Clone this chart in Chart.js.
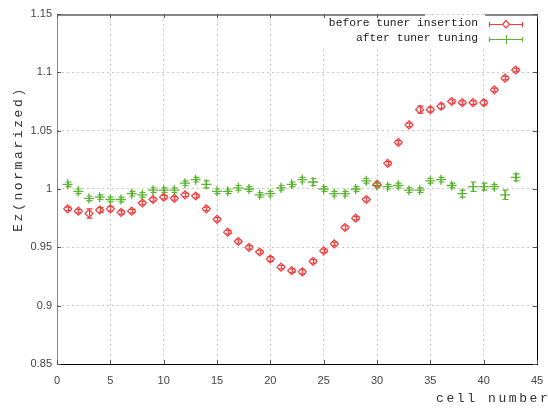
<!DOCTYPE html>
<html>
<head>
<meta charset="utf-8">
<script src="https://cdn.jsdelivr.net/npm/chart.js@4/dist/chart.umd.min.js"></script>
<style>
  html, body { margin: 0; padding: 0; background: #fff; }
  #wrap { width: 548px; height: 408px; }
</style>
</head>
<body>
<div id="wrap"><canvas id="myChart" width="548" height="408"></canvas></div>
<script>
// cell index 1..43
let cells = [];
for (let i = 1; i <= 43; i++) cells.push(i);

let labelBefore = 'before tuner insertion';
let labelAfter = 'after tuner tuning';

let before = [0.983, 0.981, 0.979, 0.982, 0.983, 0.980, 0.981, 0.988, 0.991, 0.993,
              0.992, 0.995, 0.994, 0.983, 0.974, 0.963, 0.955, 0.950, 0.946, 0.940,
              0.933, 0.930, 0.929, 0.938, 0.947, 0.953, 0.967, 0.975, 0.991, 1.004,
              1.022, 1.040, 1.055, 1.068, 1.068, 1.071, 1.075, 1.074, 1.074, 1.074,
              1.085, 1.095, 1.102];
let beforeErr = [0.0015, 0.0015, 0.004, 0.002, 0.002, 0.0015, 0.0015, 0.0015, 0.0015, 0.0015,
                 0.0015, 0.0015, 0.0015, 0.0015, 0.0015, 0.0015, 0.0015, 0.0015, 0.0015, 0.002,
                 0.0015, 0.0015, 0.002, 0.0015, 0.0015, 0.0015, 0.0015, 0.0015, 0.0015, 0.0015,
                 0.0015, 0.0015, 0.0015, 0.003, 0.002, 0.002, 0.0015, 0.0015, 0.0015, 0.002,
                 0.0015, 0.0015, 0.0015];

let after = [1.004, 0.998, 0.992, 0.993, 0.991, 0.991, 0.996, 0.995, 0.999, 0.999,
             0.999, 1.005, 1.008, 1.004, 0.998, 0.998, 1.001, 1.000, 0.995, 0.996,
             1.001, 1.004, 1.008, 1.006, 1.000, 0.996, 0.996, 1.000, 1.007, 1.003,
             1.002, 1.003, 0.999, 0.999, 1.007, 1.008, 1.003, 0.996, 1.002, 1.002,
             1.002, 0.995, 1.010];
let afterErr = [0.002, 0.002, 0.002, 0.002, 0.002, 0.002, 0.002, 0.002, 0.002, 0.002,
                0.002, 0.002, 0.002, 0.003, 0.002, 0.002, 0.002, 0.002, 0.002, 0.002,
                0.002, 0.002, 0.002, 0.003, 0.002, 0.002, 0.002, 0.002, 0.002, 0.002,
                0.002, 0.002, 0.002, 0.002, 0.002, 0.002, 0.002, 0.003, 0.004, 0.003,
                0.002, 0.004, 0.003];

let xTicks = [0, 5, 10, 15, 20, 25, 30, 35, 40, 45];
let yTicks = [0.85, 0.9, 0.95, 1, 1.05, 1.1, 1.15];

let red = '#f03c3c';
let green = '#5cb432';
let monoFont = '"Liberation Mono", "DejaVu Sans Mono", monospace';

function toPoints(ys) {
    return cells.map((c, i) => ({ x: c, y: ys[i] }));
}

// error bars + frame + legend drawn on top
let extras = {
    id: 'extras',
    beforeDatasetsDraw(chart) {
        let ctx = chart.ctx;
        let a = chart.chartArea;
        // legend box hides the grid under it
        ctx.save();
        ctx.fillStyle = '#fff';
        ctx.fillRect(318, a.top + 1, 212, 33);
        ctx.restore();
    },
    afterDatasetsDraw(chart) {
        let ctx = chart.ctx;
        let xs = chart.scales.x, ys = chart.scales.y;
        let errs = [beforeErr, afterErr];
        let cols = [red, green];
        ctx.save();
        ctx.lineWidth = 1.2;
        chart.data.datasets.forEach((ds, k) => {
            ctx.strokeStyle = cols[k];
            ds.data.forEach((p, i) => {
                let px = Math.round(xs.getPixelForValue(p.x)) + 0.5;
                let y1 = ys.getPixelForValue(p.y - errs[k][i]);
                let y2 = ys.getPixelForValue(p.y + errs[k][i]);
                ctx.beginPath();
                ctx.moveTo(px, y1); ctx.lineTo(px, y2);
                ctx.moveTo(px - 3, y1); ctx.lineTo(px + 3, y1);
                ctx.moveTo(px - 3, y2); ctx.lineTo(px + 3, y2);
                ctx.stroke();
            });
        });
        ctx.restore();
    },
    afterDraw(chart) {
        let ctx = chart.ctx;
        let a = chart.chartArea;
        let xs = chart.scales.x, ys = chart.scales.y;
        ctx.save();
        // frame
        ctx.lineWidth = 1;
        ctx.strokeStyle = '#888';
        ctx.beginPath();
        ctx.moveTo(a.left + 0.5, a.top); ctx.lineTo(a.left + 0.5, a.bottom);
        ctx.stroke();
        ctx.lineWidth = 2;
        ctx.beginPath();
        ctx.moveTo(a.left, a.top + 1); ctx.lineTo(425, a.top + 1);
        ctx.moveTo(485, a.top + 1); ctx.lineTo(a.right, a.top + 1);
        ctx.stroke();
        ctx.lineWidth = 1;
        ctx.strokeStyle = '#000';
        ctx.beginPath();
        ctx.moveTo(a.left, a.bottom + 0.5); ctx.lineTo(a.right + 1, a.bottom + 0.5);
        ctx.moveTo(a.right + 0.5, a.top); ctx.lineTo(a.right + 0.5, a.bottom);
        ctx.stroke();
        // inward tick marks
        ctx.strokeStyle = '#555';
        ctx.beginPath();
        xTicks.forEach(v => {
            let px = Math.round(xs.getPixelForValue(v)) + 0.5;
            ctx.moveTo(px, a.bottom); ctx.lineTo(px, a.bottom - 4);
            if (px < 425 || px > 485) { ctx.moveTo(px, a.top); ctx.lineTo(px, a.top + 4); }
        });
        yTicks.forEach(v => {
            let py = Math.round(ys.getPixelForValue(v)) + 0.5;
            ctx.moveTo(a.left, py); ctx.lineTo(a.left + 4, py);
            ctx.moveTo(a.right, py); ctx.lineTo(a.right - 4, py);
        });
        ctx.stroke();

        // axis titles
        ctx.fillStyle = '#333';
        ctx.font = '13px ' + monoFont;
        ctx.letterSpacing = '2.6px';
        ctx.textBaseline = 'middle';
        ctx.textAlign = 'left';
        ctx.fillText('cell number', 436, 399);
        ctx.save();
        ctx.translate(19, 159);
        ctx.rotate(-Math.PI / 2);
        ctx.textAlign = 'center';
        ctx.fillText('Ez(normarized)', 0, 0);
        ctx.restore();

        // legend
        ctx.letterSpacing = '0px';
        ctx.font = '11.3px ' + monoFont;
        ctx.textAlign = 'right';
        let rows = [
            { text: labelBefore, col: red, y: 24, style: 'diamond' },
            { text: labelAfter, col: green, y: 39, style: 'cross' }
        ];
        rows.forEach(r => {
            ctx.fillStyle = '#222';
            ctx.fillText(r.text, 478, r.y - 1);
            ctx.strokeStyle = r.col;
            ctx.lineWidth = 1.2;
            ctx.beginPath();
            ctx.moveTo(489, r.y + 0.5); ctx.lineTo(523, r.y + 0.5);
            ctx.moveTo(489.5, r.y - 2); ctx.lineTo(489.5, r.y + 3);
            ctx.moveTo(522.5, r.y - 2); ctx.lineTo(522.5, r.y + 3);
            ctx.stroke();
            ctx.beginPath();
            if (r.style === 'diamond') {
                ctx.fillStyle = '#fff';
                ctx.moveTo(506, r.y - 3.5); ctx.lineTo(509.5, r.y + 0.5);
                ctx.lineTo(506, r.y + 4); ctx.lineTo(502.5, r.y + 0.5);
                ctx.closePath();
                ctx.fill();
            } else {
                ctx.moveTo(506.5, r.y - 4); ctx.lineTo(506.5, r.y + 5);
            }
            ctx.stroke();
        });
        ctx.restore();
    }
};

let chart1 = new Chart(document.getElementById('myChart').getContext('2d'), {
    type: 'scatter',
    data: {
        datasets: [
            {
                label: labelBefore,
                data: toPoints(before),
                pointStyle: 'rectRot',
                pointRadius: 4,
                pointBorderWidth: 1.2,
                borderColor: red,
                backgroundColor: 'rgba(255,255,255,0)'
            },
            {
                label: labelAfter,
                data: toPoints(after),
                pointStyle: 'cross',
                pointRadius: 5,
                pointBorderWidth: 1.4,
                borderColor: green,
                backgroundColor: green
            }
        ]
    },
    plugins: [extras],
    options: {
        responsive: false,
        animation: false,
        events: [],
        layout: { padding: { top: 14, right: 11, left: 0, bottom: 0 } },
        plugins: {
            legend: { display: false },
            tooltip: { enabled: false }
        },
        scales: {
            x: {
                type: 'linear',
                min: 0, max: 45,
                afterFit(scale) { scale.height = 44; scale.paddingRight = 0; scale.paddingLeft = 0; },
                afterBuildTicks(scale) { scale.ticks = xTicks.map(v => ({ value: v })); },
                border: { display: false, dash: [2, 3] },
                grid: { color: '#c8c8c8', lineWidth: 1, drawTicks: false },
                ticks: { padding: 10, color: '#444', font: { family: '"Liberation Sans", Arial, sans-serif', size: 11 } }
            },
            y: {
                type: 'linear',
                min: 0.85, max: 1.15,
                afterFit(scale) { scale.width = 57; scale.paddingTop = 0; scale.paddingBottom = 0; },
                afterBuildTicks(scale) { scale.ticks = yTicks.map(v => ({ value: v })); },
                border: { display: false, dash: [2, 3] },
                grid: { color: '#c8c8c8', lineWidth: 1, drawTicks: false },
                ticks: {
                    padding: 5,
                    color: '#444',
                    font: { family: '"Liberation Sans", Arial, sans-serif', size: 11 },
                    callback: v => String(Math.round(v * 100) / 100)
                }
            }
        }
    }
});
</script>
</body>
</html>
